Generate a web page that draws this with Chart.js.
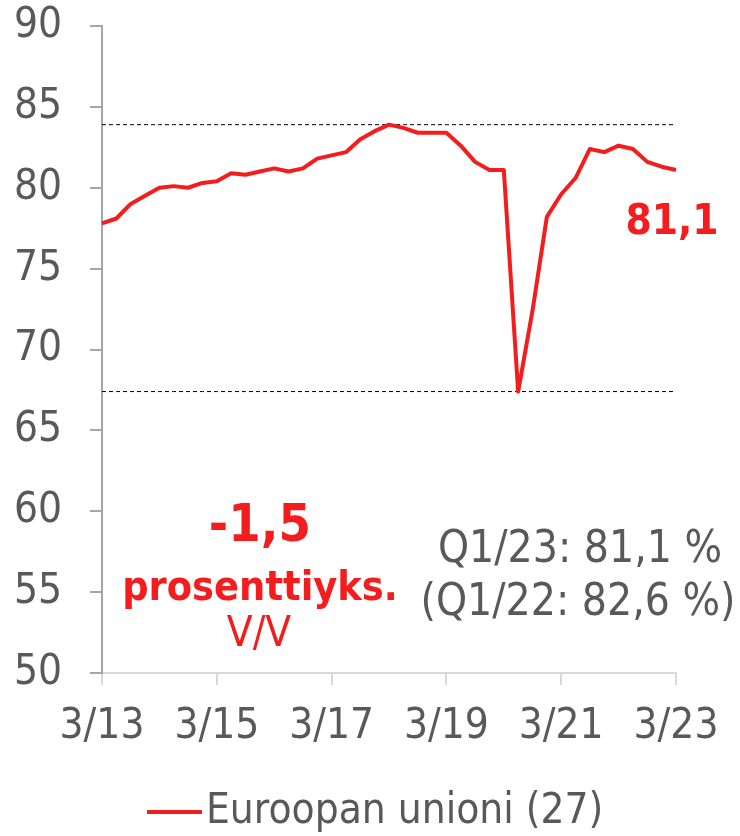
<!DOCTYPE html>
<html>
<head>
<meta charset="utf-8">
<script src="https://cdn.jsdelivr.net/npm/chart.js@4"></script>
<style>
  html, body { margin: 0; padding: 0; background: #fff; }
  #wrap { width: 740px; height: 836px; }
</style>
</head>
<body>
<div id="wrap"><canvas id="myChart" width="740" height="836"></canvas></div>
<script>
// quarters 3/13 ... 3/23
const quarters = [
  '3/13','6/13','9/13','12/13','3/14','6/14','9/14','12/14',
  '3/15','6/15','9/15','12/15','3/16','6/16','9/16','12/16',
  '3/17','6/17','9/17','12/17','3/18','6/18','9/18','12/18',
  '3/19','6/19','9/19','12/19','3/20','6/20','9/20','12/20',
  '3/21','6/21','9/21','12/21','3/22','6/22','9/22','12/22',
  '3/23'
]
const euValues = [
  77.8, 78.1, 79.0, 79.5, 80.0, 80.1, 80.0, 80.3,
  80.4, 80.9, 80.8, 81.0, 81.2, 81.0, 81.2, 81.8,
  82.0, 82.2, 83.0, 83.5, 83.9, 83.7, 83.4, 83.4,
  83.4, 82.6, 81.6, 81.1, 81.1, 67.4, 72.4, 78.2,
  79.6, 80.6, 82.4, 82.2, 82.6, 82.4, 81.6, 81.3,
  81.1
]
const seriesLabel = 'Euroopan unioni (27)'
const yTicks = [50, 55, 60, 65, 70, 75, 80, 85, 90]

const red = '#f41d1d'
const grey = '#595959'
const fam = "'DejaVu Sans Condensed', 'DejaVu Sans', sans-serif"

const maxVal = Math.max(...euValues)
const minVal = Math.min(...euValues)

const notes = {
  id: 'notes',
  afterDraw(chart) {
    const ctx = chart.ctx
    ctx.save()
    ctx.textAlign = 'center'
    ctx.textBaseline = 'middle'
    function txt(s, x, y, font, color) {
      ctx.font = font
      ctx.fillStyle = color
      ctx.fillText(s, x, y)
    }
    txt('81,1', 672, 223, 'bold 42px ' + fam, red)
    txt('-1,5', 260, 527, 'bold 52px ' + fam, red)
    txt('prosenttiyks.', 260, 589, 'bold 41px ' + fam, red)
    txt('V/V', 259, 635, '42px ' + fam, red)
    txt('Q1/23: 81,1 %', 580, 551, '44px ' + fam, grey)
    txt('(Q1/22: 82,6 %)', 578, 604, '44px ' + fam, grey)

    // legend
    ctx.strokeStyle = red
    ctx.lineWidth = 4
    ctx.beginPath()
    ctx.moveTo(147, 812)
    ctx.lineTo(202, 812)
    ctx.stroke()
    ctx.textAlign = 'left'
    txt(seriesLabel, 206, 812, '42px ' + fam, grey)
    ctx.restore()
  }
}

let cfg = {
  type: 'line',
  data: {
    labels: quarters,
    datasets: [{
      label: seriesLabel,
      data: euValues,
      borderColor: red,
      borderWidth: 4,
      borderJoinStyle: 'round',
      pointRadius: 0,
      tension: 0,
      fill: false,
    }, {
      label: 'max',
      data: quarters.map(() => maxVal),
      borderColor: '#000',
      borderWidth: 1,
      borderDash: [4, 3],
      pointRadius: 0,
      fill: false,
    }, {
      label: 'min',
      data: quarters.map(() => minVal),
      borderColor: '#000',
      borderWidth: 1,
      borderDash: [4, 3],
      pointRadius: 0,
      fill: false,
    }]
  },
  options: {
    responsive: false,
    animation: false,
    layout: { padding: { top: 0, right: 64, bottom: 63, left: 0 } },
    plugins: {
      legend: { display: false },
      tooltip: { enabled: false },
    },
    scales: {
      x: {
        type: 'category',
        offset: false,
        border: { color: '#d9d9d9', width: 2 },
        grid: {
          drawOnChartArea: false,
          drawTicks: true,
          tickLength: 12,
          lineWidth: 2,
          color: (c) => (c.index % 8 === 0 ? '#d9d9d9' : 'rgba(0,0,0,0)'),
        },
        ticks: {
          autoSkip: false,
          maxRotation: 0,
          padding: 17,
          color: grey,
          font: { family: fam, size: 42 },
          callback: (v, i) => (i % 8 === 0 ? quarters[i] : ''),
        },
        afterFit: (s) => { s.height = 100 },
      },
      y: {
        min: 50,
        max: 90,
        border: { color: '#a6a6a6', width: 2 },
        grid: {
          drawOnChartArea: false,
          drawTicks: true,
          tickLength: 12,
          lineWidth: 2,
          color: '#a6a6a6',
        },
        afterBuildTicks: (s) => { s.ticks = yTicks.map(v => ({ value: v })) },
        ticks: {
          padding: 28,
          color: grey,
          font: { family: fam, size: 42 },
        },
        afterFit: (s) => {
          s.width = 102
          s.paddingTop = 26
          s.paddingBottom = 0
        },
      }
    }
  },
  plugins: [notes]
}

const myChart = new Chart(document.getElementById('myChart'), cfg)
</script>
</body>
</html>
